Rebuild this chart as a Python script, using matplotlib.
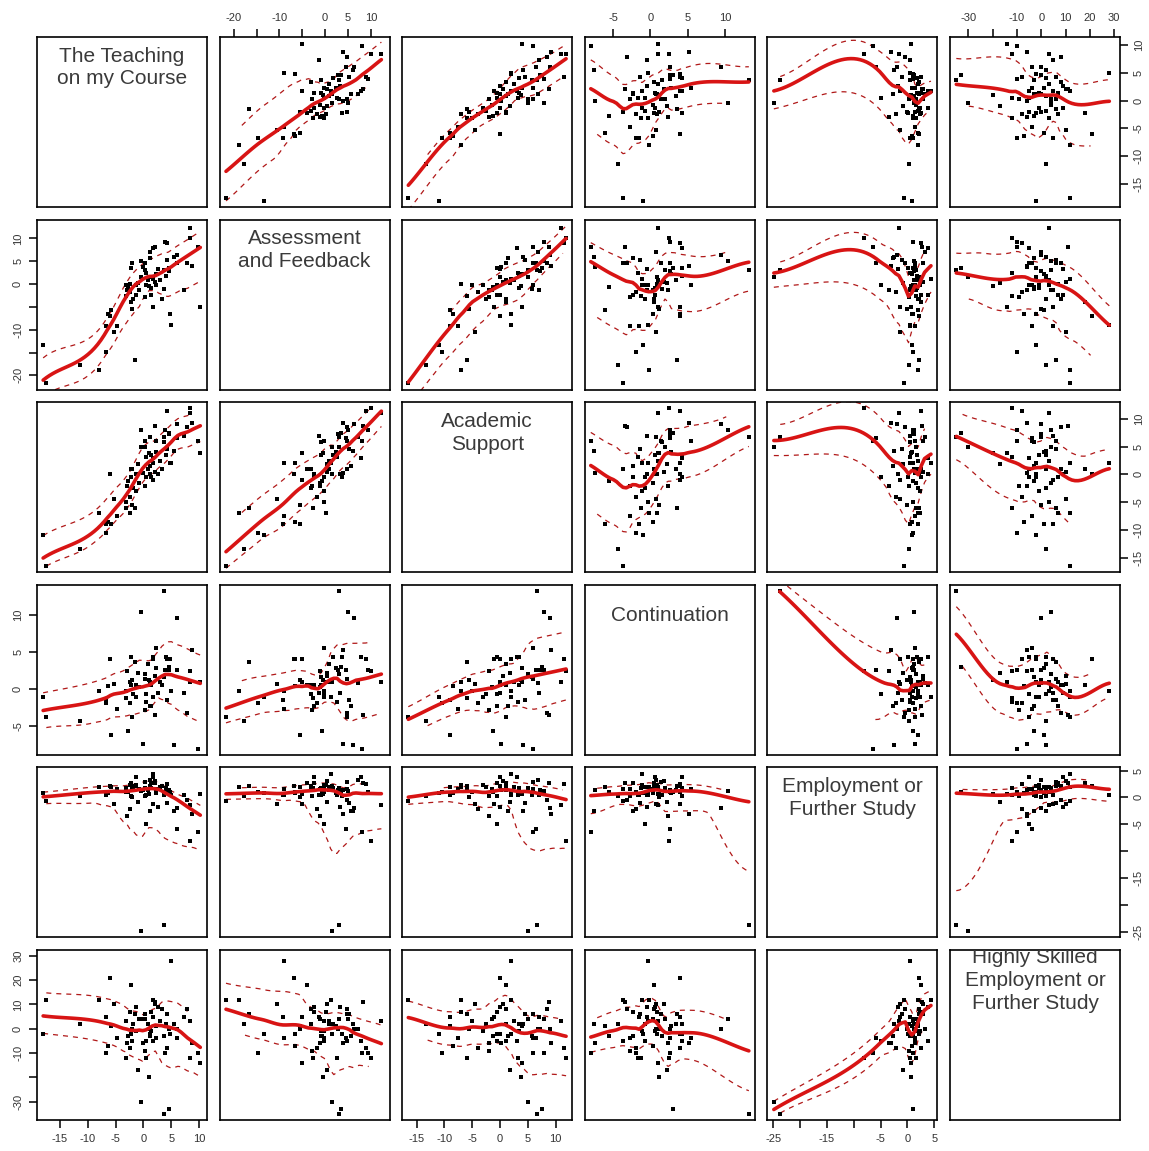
import numpy as np
import matplotlib
matplotlib.use("Agg")
import matplotlib.pyplot as plt

plt.rcParams['font.family'] = ['Liberation Sans', 'DejaVu Sans']

names = ['The Teaching\non my Course', 'Assessment\nand Feedback', 'Academic\nSupport',
         'Continuation', 'Employment or\nFurther Study', 'Highly Skilled\nEmployment or\nFurther Study']

nan = float('nan')

# one value per institution (nan = missing)
teaching = [10.2, 8.7, 9.7, 8.3, 8.4, 7.8, 7.2, 4.8, 6.0, 6.0, 4.0, 3.4, 3.6, 3.7, 4.5, 4.3, 4.2, 3.9,
            1.7, 2.9, 2.3, 2.0, 1.7, 2.3, 1.4, 1.4, 0.5, 0.8, 1.1, 0.5, 0.2, -0.1, 0.2, 1.1, 1.1, 1.7,
            2.0, 0.2, -0.4, -0.8, -1.4, -1.3, -1.9, -2.5, -2.8, -1.5, -2.3, -2.1, -2.0, -2.2, -3.2, -3.0,
            -3.2, -2.5, -5.2, -4.8, -6.0, -6.3, -5.8, -6.7, -6.7, -7.9, -11.4, -17.5, -18.0,
            4.6, -0.4, 5.0, -1.0, 2.6, 5.5, 1.0]
assessment = [-5.1, 4.0, 8.1, 10.1, 12.3, 4.7, -1.3, -6.5, 4.5, 6.4, 1.8, -3.2, -1.0, 3.0, 2.8, 5.3, 8.9, 9.3,
              -5.1, 0.8, -0.3, 0.5, 1.2, 2.3, -2.5, -0.9, -0.3, 0.8, 1.6, 2.5, 3.1, 3.8, 4.7, 5.6, 7.1, 7.8,
              8.2, -2.8, 1.5, -1.2, -0.3, -2.5, -3.2, -1.7, -0.6, -16.6, 3.6, 4.7, -5.4, -4.0, -2.6, -1.2,
              -0.3, 0.1, -10.6, -9.1, -6.9, -6.5, -5.6, -9.2, -14.8, -18.9, -17.7, -21.7, -13.4,
              3.5, 5.0, -9.0, 0.3, 3.3, 6.0, -0.5]
support = [3.9, 9.2, 6.0, 11.9, 11.0, 8.5, 7.0, 2.0, 6.5, 9.0, 3.5, 1.0, 5.8, 6.7, 7.2, 4.5, 11.5, 8.0,
           -1.0, 2.5, 6.0, 0.5, 2.0, 4.0, -0.5, 3.5, -0.5, 1.0, 0.0, 3.2, 5.0, 0.2, 6.0, 1.5, 6.8, 3.0,
           8.8, -2.0, 5.0, -1.5, -3.0, 0.0, -2.5, -4.0, -1.2, -6.0, -0.5, 1.0, -5.5, 1.0, -6.0, -2.0,
           -5.0, -7.0, -4.5, -7.5, 0.0, -8.5, -9.0, -9.0, -10.5, -7.0, -13.4, -16.5, -10.9,
           7.5, 8.0, 2.0, 1.8, 0.0, 4.2, 3.8]
continuation = [1.0, 5.2, -8.0, 2.5, 1.0, -3.2, -0.5, 4.0, 2.6, 9.5, 4.3, 0.5, 1.6, 13.2, 2.6, -1.4, 4.0, 2.6,
                4.0, 1.0, 5.5, 1.8, -1.1, 2.8, -2.3, 0.6, -0.7, 3.4, 0.9, -1.7, 2.0, -7.4, 1.4, -2.3, 0.8, 4.3,
                -3.4, -2.8, nan, 0.3, -1.1, 0.6, -0.7, -1.9, -5.6, 3.6, 4.3, -3.7, 1.2, 0.5, -1.2, 2.4,
                -0.3, 0.9, 0.7, -2.7, 4.0, 0.4, -6.1, -1.5, -1.9, -0.2, -4.3, -3.7, -1.0,
                3.0, 10.4, -0.3, 2.2, -0.5, -7.5, 1.2]
employment = [0.6, -3.0, -6.5, -8.1, -1.5, -0.5, 0.5, 1.0, -5.9, -2.0, 1.8, 2.2, 0.4, -23.8, 1.3, -1.0, 2.5, 1.0,
              -1.3, 2.0, 1.5, 3.0, 4.4, 0.8, 2.6, 1.8, -4.9, 1.3, 2.1, 0.5, 1.7, 1.4, 2.9, -2.6, 3.3, 3.8,
              2.7, 0.3, -24.9, 1.6, 2.3, 3.9, 2.0, -2.2, 1.1, 2.1, 0.2, 1.5, 0.0, 2.6, 1.7, -3.5,
              1.0, 2.4, -1.3, 1.5, 2.2, 0.8, 1.9, 0.5, 1.0, 2.0, 0.3, -0.6, 0.8,
              1.0, 1.2, 0.5, -0.8, -1.8, -2.5, 0.6]
skilled = [-14, -6, -10, -12, 3, 8, 5, -2, -4, 0, 2, 8, -3, -35, 0, 6, -8, -10,
           5, 3, -4, 10, 12, 1, 7, -1, -5, 2, -2, -12, 4, -6, 6, -3, 0, -5,
           11, -9, -30, 4, -1, 9, 2, -8, -3, 6, -2, -5, 0, 18, -12, -6,
           3, 7, 10, -4, 21, -7, 1, 5, -10, 12, 2, 12, -2,
           -33, 4, 28, -17, 9, 2, -20]

variables = [teaching, assessment, support, continuation, employment, skilled]

# axis limits, ticks and tick labels per variable
lims = [(-19.1, 11.4), (-23.1, 14.1), (-17.6, 13.0), (-8.8, 14.0), (-26.1, 5.6), (-37.6, 32.4)]
ticks = [[-15, -10, -5, 0, 5, 10],
         [-20, -15, -10, -5, 0, 5, 10],
         [-15, -10, -5, 0, 5, 10],
         [-5, 0, 5, 10],
         [-25, -20, -15, -10, -5, 0, 5],
         [-30, -20, -10, 0, 10, 20, 30]]
tick_labels = [['-15', '-10', '-5', '0', '5', '10'],
               ['-20', '', '-10', '', '0', '5', '10'],
               ['-15', '-10', '-5', '0', '5', '10'],
               ['-5', '0', '5', '10'],
               ['-25', '', '-15', '', '-5', '0', '5'],
               ['-30', '', '-10', '0', '10', '20', '30']]


# ---- loess in the R way: kd-tree vertices + cubic Hermite interpolation ----
def vertex_fit(x, y, w_rob, v, q, degree):
    d = np.abs(x - v)
    ds = np.sort(d)
    h = ds[q - 1]
    if q < len(x):
        h = (ds[q - 1] + ds[q]) / 2 if ds[q] > ds[q - 1] else ds[q - 1]
    h = max(h, 1e-9)
    u = np.clip(d / h, 0, 1)
    w = (1 - u ** 3) ** 3 * w_rob
    if degree == 0 or np.sum(w > 0) < 2:
        return np.sum(w * y) / max(np.sum(w), 1e-12), 0.0
    X = np.column_stack([np.ones_like(x), x - v])
    A = X.T @ (X * w[:, None])
    b = X.T @ (w * y)
    beta = np.linalg.lstsq(A, b, rcond=None)[0]
    return beta[0], beta[1]


def kd_vertices(x, fc):
    lo, hi = x.min(), x.max()
    mu = 0.005 * max(hi - lo, 1e-10)
    verts = [lo - mu, hi + mu]

    def split(pts, a, b):
        if len(pts) <= fc:
            return
        pts = np.sort(pts)
        m = (len(pts) - 1) // 2
        s = (pts[m] + pts[m + 1]) / 2
        if s <= a or s >= b:
            return
        verts.append(s)
        split(pts[pts <= s], a, s)
        split(pts[pts > s], s, b)

    split(x, verts[0], verts[1])
    return np.array(sorted(verts))


def surface(x, y, w_rob, span, degree, xs):
    n = len(x)
    q = max(int(np.floor(n * span)), 2)
    fc = max(int(np.floor(n * span * 0.2)), 1)
    vs = kd_vertices(x, fc)
    vals = np.array([vertex_fit(x, y, w_rob, v, q, degree) for v in vs])
    f, s = vals[:, 0], vals[:, 1]
    out = np.empty(len(xs))
    for k, xv in enumerate(xs):
        i = np.clip(np.searchsorted(vs, xv) - 1, 0, len(vs) - 2)
        h = vs[i + 1] - vs[i]
        t = (xv - vs[i]) / h
        h00 = 2 * t ** 3 - 3 * t ** 2 + 1
        h10 = t ** 3 - 2 * t ** 2 + t
        h01 = -2 * t ** 3 + 3 * t ** 2
        h11 = t ** 3 - t ** 2
        out[k] = h00 * f[i] + h10 * h * s[i] + h01 * f[i + 1] + h11 * h * s[i + 1]
    return out


def loess(x, y, xs, span=0.5, degree=1, iterations=4):
    w_rob = np.ones(len(x))
    for it in range(iterations):
        fitted = surface(x, y, w_rob, span, degree, x)
        if it < iterations - 1:
            res = y - fitted
            cmad = 6 * np.median(np.abs(res))
            if cmad < 1e-12:
                break
            u = res / cmad
            w_rob = np.where(np.abs(u) < 1, (1 - u ** 2) ** 2, 0.0)
    return surface(x, y, w_rob, span, degree, xs), fitted


W, H = 1149, 1151
fig = plt.figure(figsize=(W / 100, H / 100), dpi=100)
fig.patch.set_facecolor('white')

box = 170
step = 182.6
n = len(variables)
dash_col = '#b01818'

for i in range(n):
    for j in range(n):
        left = 37 + j * step
        top = 37 + i * step
        ax = fig.add_axes([left / W, 1 - (top + box) / H, box / W, box / H])
        ax.set_xlim(lims[j])
        ax.set_ylim(lims[i])
        for sp in ax.spines.values():
            sp.set_linewidth(1.2)
            sp.set_color('black')
        ax.tick_params(which='both', length=0, labelleft=False, labelbottom=False,
                       left=False, bottom=False)

        if i == j:
            ax.text(0.5, 0.82, names[i], transform=ax.transAxes, ha='center', va='center',
                    fontsize=15, color='#3a3a3a', linespacing=1.25, clip_on=True)
        else:
            x = np.array(variables[j], float)
            y = np.array(variables[i], float)
            ok = ~np.isnan(x) & ~np.isnan(y)
            x, y = x[ok], y[ok]
            ax.scatter(x, y, s=8, marker='s', color='black', linewidths=0, zorder=3)
            xs = np.linspace(x.min(), x.max(), 50)
            fit_xs, fit_x = loess(x, y, xs)
            res = y - fit_x
            for sign, sel in ((1, res > 0), (-1, res <= 0)):
                xsub = x[sel]
                spread, _ = loess(xsub, res[sel] ** 2, xs, degree=0, iterations=1)
                inside = (xs >= xsub.min()) & (xs <= xsub.max())
                band = fit_xs + sign * np.sqrt(np.clip(spread, 0, None))
                ax.plot(xs[inside], band[inside], color=dash_col, lw=0.9,
                        ls=(0, (4, 4)), zorder=2)
            ax.plot(xs, fit_xs, color='#d81414', lw=2.6, zorder=4, solid_capstyle='round')

        # outer axes, alternating like R's pairs()
        tick_kw = dict(length=6, width=1.1, labelsize=8, colors='black',
                       labelcolor='#333333', pad=4)
        if i == 0 and j % 2 == 1:
            ax.xaxis.set_ticks_position('top')
            ax.set_xticks(ticks[j])
            ax.set_xticklabels(tick_labels[j])
            ax.tick_params(axis='x', top=True, labeltop=True, **tick_kw)
        if i == n - 1 and j % 2 == 0:
            ax.set_xticks(ticks[j])
            ax.set_xticklabels(tick_labels[j])
            ax.tick_params(axis='x', bottom=True, labelbottom=True, **tick_kw)
        if j == 0 and i % 2 == 1:
            ax.set_yticks(ticks[i])
            ax.set_yticklabels(tick_labels[i], rotation=90, va='center')
            ax.tick_params(axis='y', left=True, labelleft=True, **tick_kw)
        if j == n - 1 and i % 2 == 0:
            ax.yaxis.set_ticks_position('right')
            ax.set_yticks(ticks[i])
            ax.set_yticklabels(tick_labels[i], rotation=90, va='center')
            ax.tick_params(axis='y', right=True, labelright=True, **tick_kw)

fig.savefig('out.png', dpi=100, facecolor='white')
